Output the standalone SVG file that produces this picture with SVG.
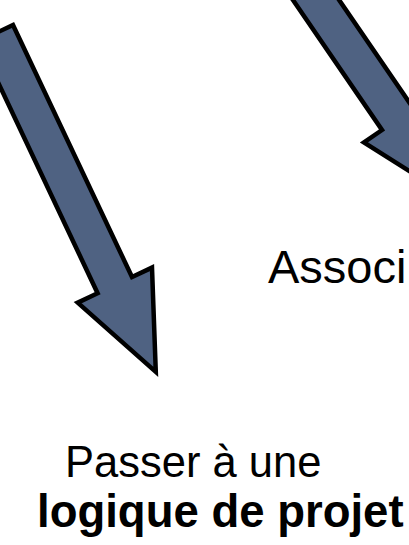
<svg xmlns="http://www.w3.org/2000/svg" width="409" height="545" viewBox="0 0 409 545">
<style>
.arrow{fill:#4f6282;stroke:#000;stroke-width:4.5;stroke-linejoin:miter}
.t{font-family:"Liberation Sans",Arial,sans-serif;fill:#000}
.b{font-weight:bold}
</style>
<rect width="409" height="545" fill="#fff"/>
<g id="connectors">
<polygon id="arrow-left" class="arrow" points="13,25 132,277 152,267.6 155.8,371.9 77.7,302.6 97.6,293.2 -21.4,41.2"/>
<polygon id="arrow-right" class="arrow" points="265.6,-40 382,130 363.9,142.5 452,198 431.5,96.1 413.4,108.5 297,-61.5"/>
</g>
<g id="node-associations">
<text class="t" x="268" y="283" font-size="47">Associ</text>
</g>
<g id="node-projet">
<text class="t" x="65" y="477" font-size="43.5">Passer à une</text>
<text class="t b" x="37" y="527" font-size="45.5">logique de projet</text>
</g>
</svg>
